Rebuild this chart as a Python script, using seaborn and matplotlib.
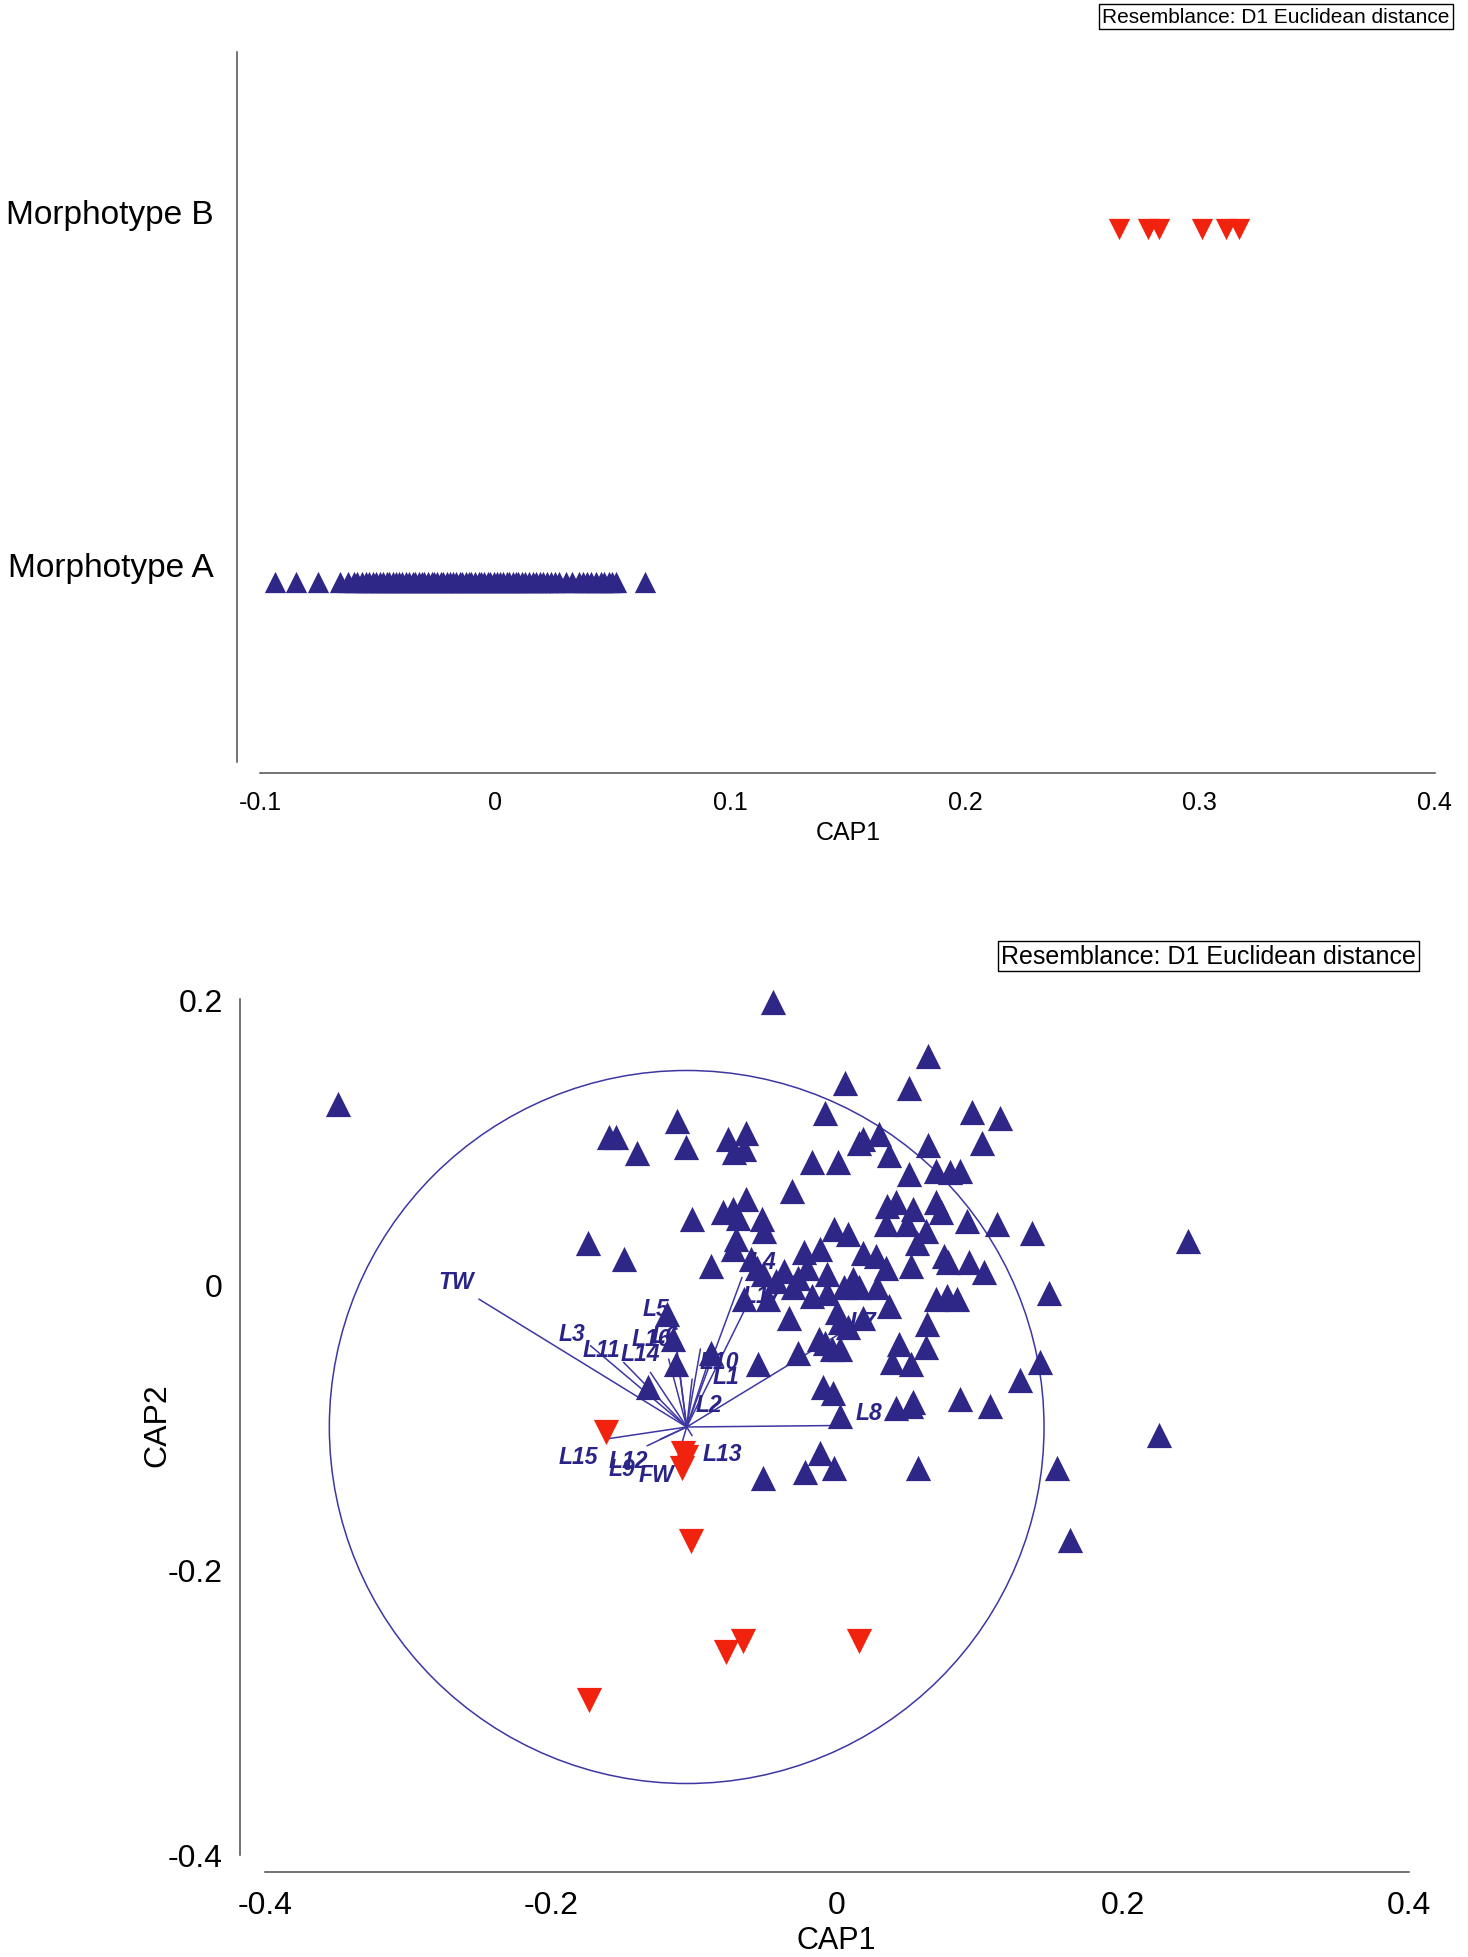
import matplotlib
matplotlib.use("Agg")
import matplotlib.pyplot as plt
import matplotlib.transforms as mtransforms
from matplotlib.patches import Circle
import pandas as pd
import seaborn as sns

sns.set_theme(style="white")
plt.rcParams['font.family'] = ['Liberation Sans', 'DejaVu Sans']
plt.rcParams['axes.unicode_minus'] = False

# ---------------- data ----------------
# Top panel: CAP1 scores per morphotype
groups = ["Morphotype A", "Morphotype B"]
morph_a_cap1 = [-0.0938, -0.0845, -0.0755, -0.0660, -0.0627, -0.0600, -0.0585, -0.0565,
                -0.0550, -0.0535, -0.0520, -0.0505, -0.0490, -0.0475, -0.0460, -0.0450,
                -0.0435, -0.0420, -0.0410, -0.0395, -0.0380, -0.0365, -0.0350, -0.0340,
                -0.0325, -0.0310, -0.0300, -0.0285, -0.0270, -0.0260, -0.0245, -0.0230,
                -0.0220, -0.0205, -0.0190, -0.0180, -0.0165, -0.0150, -0.0140, -0.0125,
                -0.0110, -0.0100, -0.0085, -0.0070, -0.0060, -0.0045, -0.0030, -0.0020,
                -0.0005, 0.0010, 0.0020, 0.0035, 0.0050, 0.0060, 0.0075, 0.0090,
                0.0100, 0.0117, 0.0130, 0.0145, 0.0160, 0.0175, 0.0190, 0.0205,
                0.0223, 0.0240, 0.0255, 0.0274, 0.0303, 0.0330, 0.0358, 0.0375,
                0.0390, 0.0410, 0.0430, 0.0450, 0.0465, 0.0485, 0.0500, 0.0516,
                0.0640]
morph_b_cap1 = [0.2654, 0.2780, 0.2825, 0.3008, 0.3110, 0.3166]

# Bottom panel: CAP1 vs CAP2 scores
blue_cap1 = [-0.0446, -0.3488, 0.0638, 0.0061, 0.0507, -0.0079, 0.0944, 0.1145, -0.1119, -0.1591,
             -0.1547, -0.1399, -0.1058, -0.0760, -0.0638, -0.0647, -0.0717, 0.0157, 0.0184, 0.0297,
             0.0638, 0.1014, -0.0175, 0.0009, 0.0367, 0.0507, 0.0691, 0.0795, 0.0865, -0.0315,
             -0.1740, -0.1486, -0.1014, -0.0795, -0.0726, -0.0638, -0.0690, -0.0524, -0.0507, -0.0708,
             -0.0883, -0.0726, -0.0603, -0.0560, -0.0367, -0.0227, -0.0114, -0.0017, 0.0079, 0.0350,
             0.0411, 0.0533, 0.0691, 0.0726, 0.0909, 0.1119, 0.1364, 0.2456, 0.0341, 0.0489,
             0.0621, 0.0560, 0.0752, 0.0778, 0.0927, 0.1031, 0.0341, 0.0516, 0.0271, 0.0184,
             -0.0070, -0.0210, -0.0271, 0.0052, 0.0114, 0.0157, -0.0306, -0.0481, -0.0516, -0.0428,
             -0.0175, -0.0070, 0.0280, 0.0691, 0.0769, 0.0839, 0.1486, -0.0647, -0.0332, 0.0000,
             0.0026, 0.0079, 0.0184, 0.0367, 0.0629, 0.0437, -0.0079, -0.0035, 0.0026, -0.0271,
             -0.0122, -0.1189, -0.1145, -0.0883, -0.1128, -0.1320, -0.0551, 0.0385, 0.0621, 0.0516,
             0.1425, 0.1285, -0.0096, -0.0026, 0.0026, 0.0411, 0.0516, 0.0533, 0.0865, 0.1075,
             0.2255, -0.0114, -0.0219, -0.0017, -0.0516, 0.0568, 0.1538, 0.1635]
blue_cap2 = [0.1982, 0.1263, 0.1605, 0.1412, 0.1377, 0.1202, 0.1211, 0.1167, 0.1149, 0.1035,
             0.1035, 0.0921, 0.0965, 0.1018, 0.1061, 0.0947, 0.0930, 0.0991, 0.1018, 0.1053,
             0.0974, 0.0991, 0.0860, 0.0860, 0.0904, 0.0772, 0.0798, 0.0789, 0.0798, 0.0658,
             0.0290, 0.0175, 0.0456, 0.0509, 0.0526, 0.0596, 0.0465, 0.0456, 0.0377, 0.0316,
             0.0132, 0.0246, 0.0175, 0.0114, 0.0096, 0.0228, 0.0246, 0.0386, 0.0351, 0.0553,
             0.0579, 0.0526, 0.0579, 0.0509, 0.0447, 0.0421, 0.0360, 0.0307, 0.0421, 0.0421,
             0.0377, 0.0290, 0.0202, 0.0158, 0.0158, 0.0088, 0.0114, 0.0132, 0.0202, 0.0219,
             0.0070, 0.0114, 0.0044, -0.0018, 0.0035, -0.0018, -0.0018, -0.0105, 0.0070, 0.0026,
             -0.0079, -0.0061, -0.0018, -0.0105, -0.0079, -0.0105, -0.0061, -0.0105, -0.0237, -0.0193,
             -0.0263, -0.0298, -0.0237, -0.0149, -0.0281, -0.0421, -0.0412, -0.0456, -0.0456, -0.0482,
             -0.0386, -0.0211, -0.0386, -0.0482, -0.0561, -0.0719, -0.0561, -0.0544, -0.0439, -0.0561,
             -0.0544, -0.0667, -0.0719, -0.0763, -0.0921, -0.0868, -0.0851, -0.0825, -0.0807, -0.0851,
             -0.1053, -0.1184, -0.1316, -0.1289, -0.1360, -0.1289, -0.1289, -0.1789]
red_cap1 = [-0.1617, -0.1075, -0.1058, -0.1084, -0.1023, -0.0656, -0.0778, 0.0157, -0.1731]
red_cap2 = [-0.1035, -0.1184, -0.1210, -0.1290, -0.1798, -0.2500, -0.2579, -0.2500, -0.2912]

# Vector overlay (correlation circle)
circle_center = (-0.105, -0.100)
circle_radius = 0.25
var_names = ["TW", "L3", "L11", "L14", "L16", "L6", "L5", "L10", "L1", "L2",
             "L4", "L17", "L7", "L8", "L13", "FW", "L9", "L12", "L15"]
vec_end_x = [-0.2504, -0.1723, -0.1491, -0.1304, -0.1176, -0.1117, -0.1142, -0.0954, -0.0907, -0.1012,
             -0.0663, -0.0640, 0.0094, -0.0045, -0.1012, -0.1117, -0.1327, -0.1234, -0.1618]
vec_end_y = [-0.0103, -0.0430, -0.0547, -0.0617, -0.0524, -0.0489, -0.0266, -0.0453, -0.0570, -0.0664,
             0.0049, -0.0170, -0.0301, -0.0990, -0.1061, -0.1225, -0.1132, -0.1085, -0.1085]
lab_x = [-0.2666, -0.1853, -0.1643, -0.1372, -0.1300, -0.1200, -0.1267, -0.0822, -0.0778, -0.0892,
         -0.0516, -0.0520, 0.0180, 0.0227, -0.0804, -0.1259, -0.1500, -0.1460, -0.1810]
lab_y = [0.0018, -0.0342, -0.0456, -0.0482, -0.0380, -0.0360, -0.0167, -0.0544, -0.0649, -0.0842,
         0.0158, -0.0080, -0.0260, -0.0895, -0.1184, -0.1333, -0.1290, -0.1237, -0.1210]

top_xticks = [-0.1, 0, 0.1, 0.2, 0.3, 0.4]
top_xticklabels = ["-0.1", "0", "0.1", "0.2", "0.3", "0.4"]
bot_xticks = [-0.4, -0.2, 0, 0.2, 0.4]
bot_xticklabels = ["-0.4", "-0.2", "0", "0.2", "0.4"]
bot_yticks = [-0.4, -0.2, 0, 0.2]
bot_yticklabels = ["-0.4", "-0.2", "0", "0.2"]

BLUE = "#2e2787"
RED = "#f2230e"
LINE = "#3d37a3"
TXT = "#2b2488"
AXC = "#4d4d4d"

W, H = 1468, 1958
fig = plt.figure(figsize=(W / 100, H / 100), dpi=100)
fig.patch.set_facecolor("white")

# ---------------- top panel ----------------
ax1 = fig.add_axes([237 / W, 1 - 763 / H, (1436 - 237) / W, (763 - 53) / H])
for s in ["top", "right"]:
    ax1.spines[s].set_visible(False)
for s in ["left", "bottom"]:
    ax1.spines[s].set_color(AXC)
    ax1.spines[s].set_linewidth(1.1)
ax1.spines["bottom"].set_position(("outward", 8))
df_a = pd.DataFrame({"CAP1": morph_a_cap1, "grp": 0})
df_b = pd.DataFrame({"CAP1": morph_b_cap1, "grp": 1})
sns.scatterplot(data=df_a, x="CAP1", y="grp", marker="^", s=235, color=BLUE,
                linewidth=0, ax=ax1, zorder=4, legend=False)
sns.scatterplot(data=df_b, x="CAP1", y="grp", marker="v", s=235, color=RED,
                linewidth=0, ax=ax1, zorder=4, legend=False)
ax1.set_xlim(-0.10978, 0.4005)
ax1.set_ylim(-0.51, 1.50)
ax1.spines["bottom"].set_bounds(-0.1, 0.4)
ax1.set_yticks([0, 1])
ax1.set_yticklabels(groups, fontsize=24, color="black")
ax1.set_xticks(top_xticks)
ax1.set_xticklabels(top_xticklabels, fontsize=18, color="black")
ax1.tick_params(axis="x", direction="out", length=8, width=1.1, color=AXC, pad=4, labelsize=18)
ax1.tick_params(axis="y", direction="out", length=8, width=1.1, color=AXC, pad=9, labelsize=24)
off = mtransforms.ScaledTranslation(0, 18 / 100, fig.dpi_scale_trans)
for lab in ax1.get_yticklabels():
    lab.set_transform(lab.get_transform() + off)
ax1.set_xlabel("CAP1", fontsize=18, color="black")
ax1.xaxis.set_label_coords(0.5096, -0.082)
ax1.set_ylabel("")
ax1.grid(False)

fig.text(1276 / W, 1 - 17.5 / H, "Resemblance: D1 Euclidean distance", ha="center", va="center",
         fontsize=15, color="black",
         bbox=dict(boxstyle="square,pad=0.15", fc="white", ec="black", lw=1.0))

# ---------------- bottom panel ----------------
ax2 = fig.add_axes([240 / W, 1 - 1855.8 / H, (1411.4 - 240) / W, (1855.8 - 978.8) / H])
for s in ["top", "right"]:
    ax2.spines[s].set_visible(False)
for s in ["left", "bottom"]:
    ax2.spines[s].set_color(AXC)
    ax2.spines[s].set_linewidth(1.1)
ax2.spines["bottom"].set_position(("outward", 12.2))
ax2.add_patch(Circle(circle_center, circle_radius, fill=False, ec=LINE, lw=1.1, zorder=2))
for name, ex, ey, lx, ly in zip(var_names, vec_end_x, vec_end_y, lab_x, lab_y):
    ax2.plot([circle_center[0], ex], [circle_center[1], ey], color=LINE, lw=1.1, zorder=2)
    ax2.text(lx, ly, name, ha="center", va="center", fontsize=16.5, style="italic",
             fontweight="bold", color=TXT, zorder=3)
df_blue = pd.DataFrame({"CAP1": blue_cap1, "CAP2": blue_cap2})
df_red = pd.DataFrame({"CAP1": red_cap1, "CAP2": red_cap2})
sns.scatterplot(data=df_blue, x="CAP1", y="CAP2", marker="^", s=330, color=BLUE,
                linewidth=0, ax=ax2, zorder=4, legend=False)
sns.scatterplot(data=df_red, x="CAP1", y="CAP2", marker="v", s=330, color=RED,
                linewidth=0, ax=ax2, zorder=4, legend=False)
ax2.set_xlim(-0.4175, 0.402)
ax2.set_ylim(-0.40, 0.215)
ax2.spines["bottom"].set_bounds(-0.4, 0.4)
ax2.spines["left"].set_bounds(-0.4, 0.2)
ax2.set_xticks(bot_xticks)
ax2.set_xticklabels(bot_xticklabels, fontsize=23, color="black")
ax2.set_yticks(bot_yticks)
ax2.set_yticklabels(bot_yticklabels, fontsize=23, color="black")
ax2.tick_params(axis="x", direction="out", length=8.5, width=1.1, color=AXC, pad=5, labelsize=23)
ax2.tick_params(axis="y", direction="out", length=8.5, width=1.1, color=AXC, pad=4, labelsize=23)
ax2.set_xlabel("CAP1", fontsize=22, color="black")
ax2.xaxis.set_label_coords(0.509, -0.080)
ax2.set_ylabel("CAP2", fontsize=23, color="black")
ax2.yaxis.set_label_coords(-0.058, 0.491)
ax2.grid(False)

fig.text(1208.5 / W, 1 - 956.6 / H, "Resemblance: D1 Euclidean distance", ha="center", va="center",
         fontsize=18, color="black",
         bbox=dict(boxstyle="square,pad=0.12", fc="white", ec="black", lw=1.0))

fig.savefig("out.png", dpi=100, facecolor="white")
